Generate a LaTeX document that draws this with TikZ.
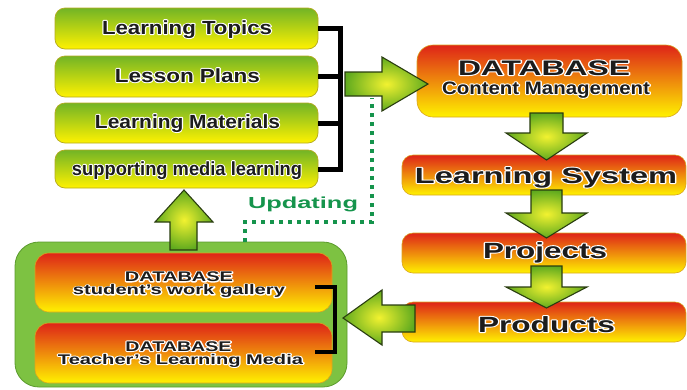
\documentclass[tikz,border=0pt]{standalone}
\usepackage{fontspec}
\setmainfont{Liberation Sans}
\usepackage{graphicx}
\definecolor{gtop}{HTML}{72B426}
\definecolor{ybot}{HTML}{FFF200}
\definecolor{rtop}{HTML}{DE2418}
\definecolor{rmid}{HTML}{F07C14}
\definecolor{txtc}{HTML}{1C1C1C}
\definecolor{contc}{HTML}{7DC242}
\definecolor{contb}{HTML}{5A9A2C}
\definecolor{arrg}{HTML}{5FAA1E}
\definecolor{arry}{HTML}{F2F230}
\definecolor{arrb}{HTML}{2A3D10}
\definecolor{updc}{HTML}{15944C}
\definecolor{gborder}{HTML}{B4AA1E}
\definecolor{rborder}{HTML}{D9A520}
\newcommand\hl[1]{%
  \makebox[0pt][l]{\special{pdf:code q 1 Tr 2 w 1 J 1 j 1 1 1 RG}#1\special{pdf:code Q}}%
  #1}
\newcommand\T[2]{\resizebox{#1}{\height}{\hl{#2}}}
\tikzset{
  gbox/.style={draw=gborder, line width=0.7pt, rounded corners=10pt,
    top color=gtop, bottom color=ybot, minimum width=263pt, inner sep=0pt},
  rbox/.style={draw=rborder, line width=0.6pt, rounded corners=11pt,
    top color=rtop, middle color=rmid, bottom color=ybot, inner sep=0pt},
  lbl/.style={anchor=base, inner sep=0pt, text=txtc},
  brk/.style={line width=5pt, black, line join=miter},
  bigarrow/.style={draw=arrb, line width=1.1pt, line join=miter,
    inner color=arry, outer color=arrg},
  upd/.style={updc, line width=4pt, dash pattern=on 4pt off 5pt}
}
\begin{document}
\begin{tikzpicture}[x=1pt,y=-1pt]
\useasboundingbox (0,0) rectangle (687,389);

% container
\node[draw=contb, line width=0.8pt, fill=contc, rounded corners=24pt,
  minimum width=332pt, minimum height=145pt, inner sep=0pt] (cont) at (181,314.5) {};
\node[rbox, minimum width=297pt, minimum height=59pt, rounded corners=14pt] (sg) at (183.5,282.5) {};
\node[rbox, minimum width=297pt, minimum height=60pt, rounded corners=14pt] (tm) at (183.5,353) {};
\draw[line width=4pt, black] (315,287) -- (335,287) -- (335,352) -- (315,352);

% left green boxes
\node[gbox, minimum height=41pt] (lt) at (186.5,28.5) {};
\node[gbox, minimum height=41pt] (lp) at (186.5,76.5) {};
\node[gbox, minimum height=40pt] (lm) at (186.5,123) {};
\node[gbox, minimum height=38pt] (sm) at (186.5,169) {};
\coordinate (bx) at (340,0);
\draw[brk] (lt.east) -- (lt.east -| bx) -- (sm.east -| bx) -- (sm.east);
\draw[brk] (lp.east) -- (lp.east -| bx);
\draw[brk] (lm.east) -- (lm.east -| bx);

% updating dotted line
\coordinate (u1) at (245,242);
\coordinate (u2) at (245,222);
\coordinate (u3) at (372,222);
\coordinate (u4) at (372,98);
\draw[upd] (u1) -- (u2) -- (u3) -- (u4);

% right red boxes
\node[rbox, minimum width=265pt, minimum height=72pt, rounded corners=16pt] (db) at (549.5,81) {};
\node[rbox, minimum width=284pt, minimum height=40pt] (ls) at (544,175) {};
\node[rbox, minimum width=284pt, minimum height=40pt] (pj) at (544,253) {};
\node[rbox, minimum width=284pt, minimum height=40pt] (pd) at (544,322) {};

% block arrows
\draw[bigarrow] (345,72) -- (382,72) -- (382,57) -- (428,84) -- (382,111) -- (382,96) -- (345,96) -- cycle;
\draw[bigarrow] (530,113) -- (563,113) -- (563,133) -- (587,133) -- (546.5,160) -- (506,133) -- (530,133) -- cycle;
\draw[bigarrow] (531,190) -- (562,190) -- (562,213) -- (587,213) -- (546.5,238) -- (506,213) -- (531,213) -- cycle;
\draw[bigarrow] (531,266) -- (562,266) -- (562,287) -- (587,287) -- (546.5,308) -- (506,287) -- (531,287) -- cycle;
\draw[bigarrow] (415,305) -- (382,305) -- (382,290) -- (343,318) -- (382,345) -- (382,332) -- (415,332) -- cycle;
\draw[bigarrow] (170,250) -- (170,222) -- (155,222) -- (184,190) -- (213,222) -- (197,222) -- (197,250) -- cycle;

% labels
\begin{scope}[every node/.style={lbl}]
\node[font=\fontsize{19}{19}\selectfont\bfseries] (t1) at (187,34) {\T{170pt}{Learning Topics}};
\node[font=\fontsize{19}{19}\selectfont\bfseries] (t2) at (187.5,82) {\T{145pt}{Lesson Plans}};
\node[font=\fontsize{19}{19}\selectfont\bfseries] (t3) at (187.5,128) {\T{185pt}{Learning Materials}};
\node[font=\fontsize{19}{19}\selectfont\bfseries] (t4) at (187,175) {\T{230pt}{supporting media learning}};
\node[font=\fontsize{21}{21}\selectfont\bfseries] (t5) at (544,75) {\T{172pt}{DATABASE}};
\node[font=\fontsize{18}{18}\selectfont\bfseries] (t6) at (546,94) {\T{208pt}{Content Management}};
\node[font=\fontsize{22}{22}\selectfont\bfseries] (t7) at (546,183) {\T{262pt}{Learning System}};
\node[font=\fontsize{22}{22}\selectfont\bfseries] (t8) at (545,258) {\T{124pt}{Projects}};
\node[font=\fontsize{22}{22}\selectfont\bfseries] (t9) at (546.5,332) {\T{137pt}{Products}};
\node[font=\fontsize{14}{14}\selectfont\bfseries] (t10) at (179,281.5) {\T{108pt}{DATABASE}};
\node[font=\fontsize{14}{14}\selectfont\bfseries] (t11) at (179,294.5) {\T{212pt}{student's work gallery}};
\node[font=\fontsize{14}{14}\selectfont\bfseries] (t12) at (178.5,351) {\T{106pt}{DATABASE}};
\node[font=\fontsize{14}{14}\selectfont\bfseries] (t13) at (180.5,364) {\T{245pt}{Teacher's Learning Media}};
\node[font=\fontsize{16}{16}\selectfont\bfseries, text=updc] (t14) at (303,208) {\resizebox{110pt}{\height}{Updating}};
\end{scope}
\end{tikzpicture}
\end{document}
